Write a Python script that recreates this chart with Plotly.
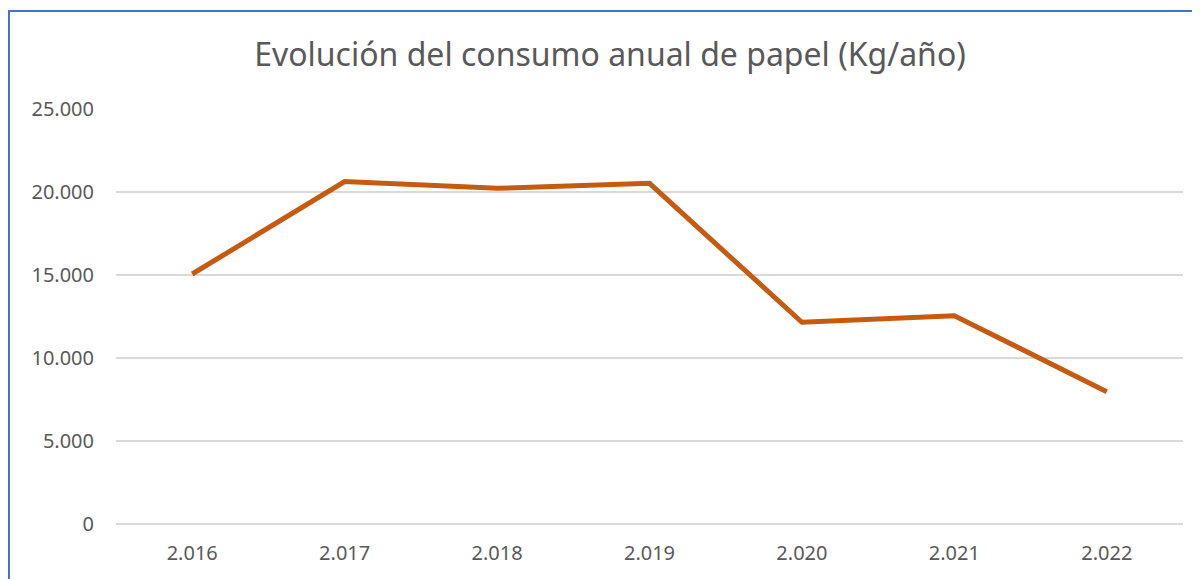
import plotly.graph_objects as go

years = ["2.016", "2.017", "2.018", "2.019", "2.020", "2.021", "2.022"]
consumo = [15060, 20630, 20220, 20520, 12150, 12550, 7970]
y_ticks = [0, 5000, 10000, 15000, 20000, 25000]
title_text = "Evolución del consumo anual de papel (Kg/año)"

W, H = 1192, 571
L, R, T, B = 108, 17, 101, 55
pw, ph = W - L - R, H - T - B

fig = go.Figure()
fig.add_trace(go.Scatter(
    x=years, y=consumo, mode="lines",
    line=dict(color="#C55A11", width=5),
    hoverinfo="x+y", showlegend=False,
))

fig.update_layout(
    width=W, height=H,
    margin=dict(l=L, r=R, t=T, b=B),
    paper_bgcolor="white", plot_bgcolor="white",
    separators=",.",
    font=dict(family="Noto Sans, Open Sans, sans-serif", color="#595959", size=20),
    title=dict(text=title_text, x=602 / W, xanchor="center", xref="container",
               y=1 - 47 / H, yanchor="middle", yref="container",
               font=dict(size=32, color="#595959")),
    xaxis=dict(type="category", categoryorder="array", categoryarray=years,
               range=[-0.5, 6.5], showgrid=False, showline=False, zeroline=False,
               ticks="", ticklabelstandoff=15, tickfont=dict(size=20)),
    yaxis=dict(range=[0, 25000], tickvals=y_ticks, tickformat=",d",
               showgrid=True, gridcolor="#D9D9D9", gridwidth=1.5,
               zeroline=True, zerolinecolor="#D9D9D9", zerolinewidth=1.5,
               showline=False, ticks="", ticklabelstandoff=21,
               tickfont=dict(size=20)),
    shapes=[dict(type="rect", xref="paper", yref="paper",
                 x0=(1 - L) / pw, x1=1.2, y0=-0.3, y1=(ph + T - 3) / ph,
                 line=dict(color="#4472C4", width=2), fillcolor="rgba(0,0,0,0)",
                 layer="below")],
)

fig.write_html("out.html")
